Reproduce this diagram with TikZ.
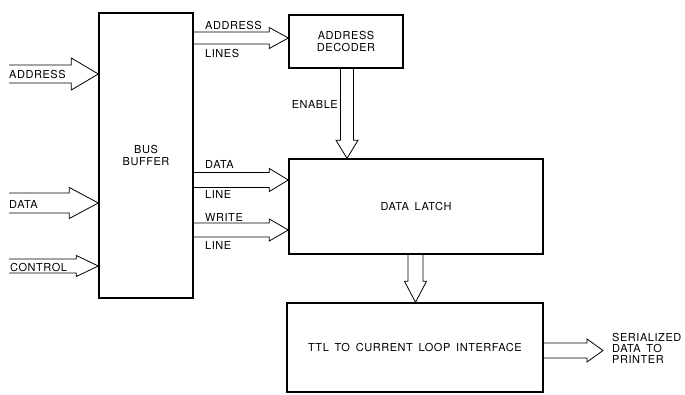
\documentclass[tikz,border=0pt]{standalone}
\usepackage{fontspec}
\setmainfont{TeX Gyre Heros}[LetterSpace=5,WordSpace=1.6]
\usetikzlibrary{calc}

% hollow bus arrow: start, tip, half shaft width, half head width, head length
\newcommand{\busarrow}[5]{%
  \draw[busline]
    ($(#1)!#3!90:(#2)$) --
    ($($(#2)!#5!(#1)$)!#3!90:(#2)$) --
    ($($(#2)!#5!(#1)$)!#4!90:(#2)$) --
    (#2) --
    ($($(#2)!#5!(#1)$)!#4!-90:(#2)$) --
    ($($(#2)!#5!(#1)$)!#3!-90:(#2)$) --
    ($(#1)!#3!-90:(#2)$);
}

\tikzset{
  blk/.style={draw, line width=1.4pt, inner sep=0pt, align=center},
  busline/.style={line width=0.8pt, line join=miter},
  lbl/.style={inner sep=0pt, anchor=west},
}

\begin{document}
\begin{tikzpicture}[x=1pt,y=-1pt,font=\fontsize{11}{12}\selectfont]
    \useasboundingbox (0,0) rectangle (685,395);

    % blocks
    \node[blk, minimum width=94pt, minimum height=285pt] (buf) at (146,155.5) {BUS\\BUFFER};
    \node[blk, minimum width=114pt, minimum height=53pt] (dec) at (346,41.5) {ADDRESS\\DECODER};
    \node[blk, minimum width=254pt, minimum height=95pt] (latch) at (416,206.5) {DATA LATCH};
    \node[blk, minimum width=256pt, minimum height=89pt] (ttl) at (415,347.5) {TTL TO CURRENT LOOP INTERFACE};

    % end points of the bus arrows
    \coordinate (adrin) at (9,74);
    \coordinate (datin) at (9,203);
    \coordinate (ctlin) at (9,266);
    \coordinate (adrout) at (buf.east |- 0,38);
    \coordinate (datout) at (buf.east |- 0,180);
    \coordinate (wrout) at (buf.east |- 0,230);
    \coordinate (enout) at (347,0 |- dec.south);
    \coordinate (latout) at (415.5,0 |- latch.south);
    \coordinate (serout) at (ttl.east |- 0,350.5);
    \coordinate (serend) at (603,350.5);

    \busarrow{adrin}{buf.west |- adrin}{9pt}{16pt}{27pt}
    \busarrow{datin}{buf.west |- datin}{10pt}{15.5pt}{29pt}
    \busarrow{ctlin}{buf.west |- ctlin}{7pt}{10.5pt}{22pt}
    \busarrow{adrout}{dec.west |- adrout}{6pt}{10.5pt}{19pt}
    \busarrow{datout}{latch.west |- datout}{7.5pt}{11.5pt}{19pt}
    \busarrow{wrout}{latch.west |- wrout}{7pt}{11pt}{19pt}
    \busarrow{enout}{enout |- latch.north}{6.5pt}{11pt}{18pt}
    \busarrow{latout}{latout |- ttl.north}{7.5pt}{11pt}{21pt}
    \busarrow{serout}{serend}{7.5pt}{11.5pt}{16pt}

    % labels
    \node[lbl] (ladr) at (9,74) {ADDRESS};
    \node[lbl] (ldat) at (9,204) {DATA};
    \node[lbl] (lctl) at (10,267) {CONTROL};
    \node[lbl] (ladrl) at (205,25) {ADDRESS};
    \node[lbl] (llines) at (205,53) {LINES};
    \node[lbl, anchor=east] (len) at (338,104) {ENABLE};
    \node[lbl] (ldatl) at (205,164) {DATA};
    \node[lbl] (lline) at (205,194) {LINE};
    \node[lbl] (lwr) at (205,217) {WRITE};
    \node[lbl] (lwrl) at (205,245) {LINE};
    \node[lbl, align=left, font=\fontsize{11}{11}\selectfont] (lser) at (612,348) {SERIALIZED\\DATA TO\\PRINTER};
\end{tikzpicture}
\end{document}
